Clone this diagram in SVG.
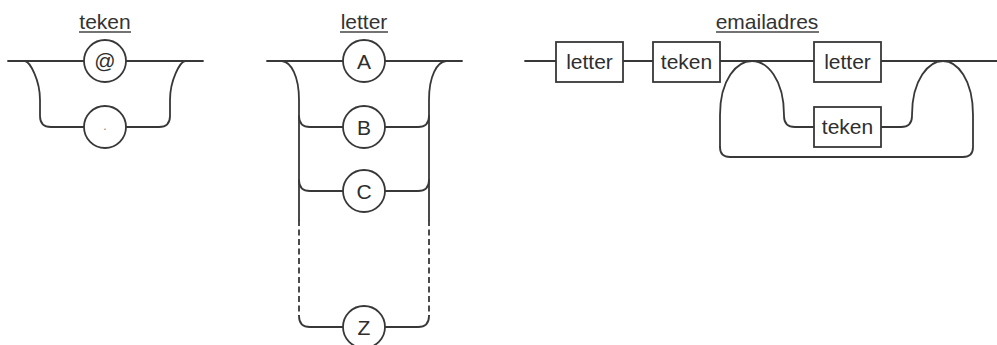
<svg xmlns="http://www.w3.org/2000/svg" width="997" height="345" viewBox="0 0 997 345">
  <style>
    .rail { fill: none; stroke: #383838; stroke-width: 1.8; stroke-linecap: round; stroke-linejoin: round; }
    .dash { stroke-dasharray: 6 3.5; stroke-linecap: butt; }
    .term { fill: #ffffff; stroke: #383838; stroke-width: 1.8; }
    .box { fill: #ffffff; stroke: #383838; stroke-width: 1.8; }
    .lbl { font-family: "Liberation Sans", Arial, sans-serif; font-size: 21px; fill: #2e2e2e; text-anchor: middle; }
    .title { font-family: "Liberation Sans", Arial, sans-serif; font-size: 21px; fill: #333333; text-anchor: middle; }
    .uline { stroke: #444444; stroke-width: 1.4; }
  </style>

  <!-- connectors (rails) -->
  <g id="connectors">
    <!-- teken: @ or . -->
    <path class="rail" d="M8,61 H203"/>
    <path class="rail" d="M25,61 C30,62 40,80 40,100 V116 Q40,127 51,127 H159 Q170,127 170,116 V100 C170,80 180,62 185,61"/>

    <!-- letter: A | B | C | ... | Z -->
    <path class="rail" d="M267,61 H462"/>
    <path class="rail" d="M282,61 C291,62 299,76 299,100 V220"/>
    <path class="rail" d="M446,61 C437,62 429,76 429,100 V220"/>
    <path class="rail" d="M299,116 Q299,127 310,127 H418 Q429,127 429,116"/>
    <path class="rail" d="M299,180 Q299,191 310,191 H418 Q429,191 429,180"/>
    <path class="rail dash" d="M299,220 V316"/>
    <path class="rail dash" d="M429,220 V316"/>
    <path class="rail" d="M299,316 Q299,327 310,327 H418 Q429,327 429,316"/>

    <!-- emailadres: letter teken { letter | teken } -->
    <path class="rail" d="M525,61 H556 M623,61 H653 M720,61 H814 M881,61 H997"/>
    <!-- branch down to the lower alternative -->
    <path class="rail" d="M720,147 V115 C720,79 737,61 752,61 C767,61 784,79 784,115 V116 Q784,127 795,127 H814"/>
    <!-- return from the lower alternative and loop back -->
    <path class="rail" d="M881,127 H901 Q912,127 912,116 V115 C912,79 929,61 943,61 C957,61 973,79 973,115 V147 Q973,157 963,157 H730 Q720,157 720,147"/>
  </g>

  <!-- teken -->
  <g id="teken-title">
    <text class="title" x="105" y="29">teken</text>
    <line class="uline" x1="79" y1="32" x2="131" y2="32"/>
  </g>
  <g id="teken-at">
    <circle class="term" cx="105" cy="61" r="21"/>
    <text class="lbl" x="105" y="68">@</text>
  </g>
  <g id="teken-dot">
    <circle class="term" cx="105" cy="127" r="21"/>
    <text class="lbl" x="105" y="130" style="font-size:12px;fill:#777777">.</text>
  </g>

  <!-- letter -->
  <g id="letter-title">
    <text class="title" x="364" y="29">letter</text>
    <line class="uline" x1="340" y1="32" x2="388" y2="32"/>
  </g>
  <g id="letter-a">
    <circle class="term" cx="364" cy="61" r="21"/>
    <text class="lbl" x="364" y="68.5">A</text>
  </g>
  <g id="letter-b">
    <circle class="term" cx="364" cy="127" r="21"/>
    <text class="lbl" x="364" y="134.5">B</text>
  </g>
  <g id="letter-c">
    <circle class="term" cx="364" cy="191" r="21"/>
    <text class="lbl" x="364" y="198.5">C</text>
  </g>
  <g id="letter-z">
    <circle class="term" cx="364" cy="327" r="21"/>
    <text class="lbl" x="364" y="334.5">Z</text>
  </g>

  <!-- emailadres -->
  <g id="emailadres-title">
    <text class="title" x="767" y="29">emailadres</text>
    <line class="uline" x1="716" y1="32" x2="819" y2="32"/>
  </g>
  <g id="email-letter">
    <rect class="box" x="556" y="42" width="67" height="40"/>
    <text class="lbl" x="589.5" y="69">letter</text>
  </g>
  <g id="email-teken">
    <rect class="box" x="653" y="42" width="67" height="40"/>
    <text class="lbl" x="686.5" y="69">teken</text>
  </g>
  <g id="email-loop-letter">
    <rect class="box" x="814" y="42" width="67" height="40"/>
    <text class="lbl" x="847.5" y="69">letter</text>
  </g>
  <g id="email-loop-teken">
    <rect class="box" x="814" y="107" width="67" height="40"/>
    <text class="lbl" x="847.5" y="134">teken</text>
  </g>
</svg>
